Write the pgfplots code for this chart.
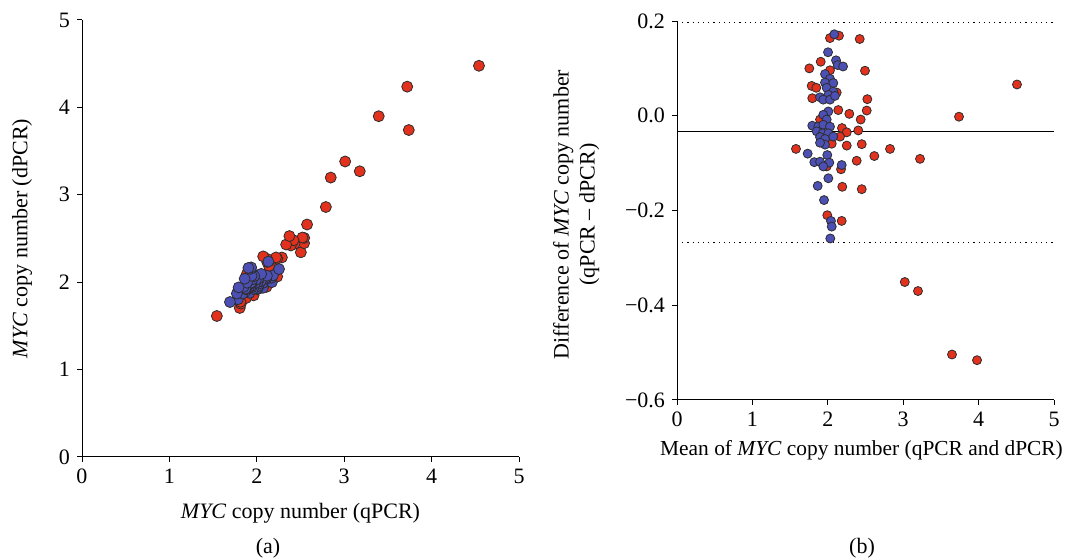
\documentclass[border=0pt]{standalone}
\usepackage{fontspec}
\setmainfont{Liberation Serif}
\usepackage{pgfplots}
\usepackage{pgfplotstable}
\pgfplotsset{compat=1.18}
\definecolor{ptred}{RGB}{226,49,29}
\definecolor{ptblue}{RGB}{76,79,180}
\definecolor{ptedge}{RGB}{45,45,45}

% Bland-Altman data (mean, difference)
\pgfplotstableread{
m d
2.029 0.164
2.148 0.169
2.423 0.162
1.906 0.114
1.755 0.100
2.029 0.096
2.493 0.095
1.786 0.063
1.847 0.059
2.118 0.049
1.794 0.037
2.524 0.035
2.139 0.012
2.516 0.011
2.285 0.004
2.436 -0.008
1.897 -0.008
2.188 -0.026
2.251 -0.035
2.404 -0.031
2.162 -0.044
2.052 -0.059
2.251 -0.063
2.450 -0.060
1.578 -0.070
2.825 -0.070
1.985 -0.107
2.175 -0.113
2.383 -0.095
2.192 -0.150
2.450 -0.155
1.993 -0.210
2.184 -0.222
2.617 -0.085
4.509 0.066
3.740 -0.002
3.223 -0.091
3.021 -0.351
3.196 -0.370
3.647 -0.504
3.979 -0.516
}\redBA
\pgfplotstableread{
m d
2.086 0.172
2.003 0.134
2.109 0.117
2.131 0.107
2.202 0.104
1.963 0.088
2.029 0.078
1.963 0.070
2.073 0.069
1.985 0.059
2.073 0.051
2.007 0.044
1.897 0.039
1.940 0.034
2.029 0.034
2.095 0.042
2.007 0.009
1.940 0.002
1.985 -0.008
1.794 -0.021
1.874 -0.023
1.940 -0.019
2.029 -0.023
1.853 -0.033
1.932 -0.037
2.007 -0.037
1.897 -0.045
1.963 -0.049
2.073 -0.044
1.963 -0.061
1.897 -0.057
1.733 -0.080
1.821 -0.098
1.897 -0.097
1.993 -0.083
2.020 -0.099
1.940 -0.107
2.184 -0.104
2.007 -0.132
1.866 -0.148
1.950 -0.178
2.042 -0.222
2.052 -0.234
2.033 -0.259
}\blueBA
% Scatter data (qPCR, dPCR)
\pgfplotstableread{
q p
2.111 1.947
2.233 2.064
2.504 2.342
1.963 1.849
1.805 1.705
2.077 1.981
2.541 2.446
1.818 1.755
1.877 1.818
2.143 2.094
1.813 1.776
2.542 2.507
2.145 2.133
2.522 2.511
2.287 2.283
2.432 2.440
1.893 1.901
2.175 2.201
2.234 2.269
2.389 2.420
2.140 2.184
2.023 2.082
2.220 2.283
2.420 2.480
1.543 1.613
2.790 2.860
1.932 2.039
2.119 2.232
2.336 2.431
2.117 2.267
2.373 2.528
1.888 2.098
2.073 2.295
2.575 2.660
4.542 4.476
3.739 3.741
3.178 3.269
2.846 3.197
3.011 3.381
3.395 3.899
3.721 4.237
}\redSC
\pgfplotstableread{
q p
2.172 2.000
2.070 1.936
2.168 2.051
2.185 2.078
2.254 2.150
2.007 1.919
2.068 1.990
1.998 1.928
2.108 2.039
2.015 1.956
2.099 2.048
2.029 1.985
1.917 1.878
1.957 1.923
2.046 2.012
2.116 2.074
2.012 2.003
1.941 1.939
1.981 1.989
1.784 1.805
1.863 1.886
1.931 1.950
2.018 2.041
1.837 1.870
1.914 1.951
1.989 2.026
1.875 1.920
1.939 1.988
2.051 2.095
1.933 1.994
1.869 1.926
1.693 1.773
1.772 1.870
1.849 1.946
1.952 2.035
1.971 2.070
1.887 1.994
2.132 2.236
1.941 2.073
1.792 1.940
1.861 2.039
1.931 2.153
1.935 2.169
1.904 2.163
}\blueSC

\begin{document}
\begin{tikzpicture}
\useasboundingbox (0,0) rectangle (535pt,280pt);
\pgfplotsset{
  common/.style={
    scale only axis,
    axis x line*=bottom, axis y line*=left,
    axis line style={-, black, line width=0.5pt},
    tick align=outside, major tick length=2.5pt,
    tick style={black, line width=0.5pt},
    xmin=0, xmax=5, xtick={0,1,2,3,4,5}, xticklabels={0,1,2,3,4,5},
    /pgf/number format/assume math mode=true,
    ticklabel style={font=\fontsize{11}{13}\selectfont},
    label style={font=\fontsize{11}{13}\selectfont},
    clip=false,
  },
  redmk/.style={only marks, mark=*, mark size=#1,
    mark options={fill=ptred, draw=ptedge, line width=0.4pt}},
  bluemk/.style={only marks, mark=*, mark size=#1,
    mark options={fill=ptblue, draw=ptedge, line width=0.4pt}},
}
\begin{axis}[common,
  at={(41pt,51.5pt)}, anchor=south west,
  width=218.5pt, height=218.5pt,
  ymin=0, ymax=5, ytick={0,1,2,3,4,5}, yticklabels={0,1,2,3,4,5},
  xlabel={\textit{MYC} copy number (qPCR)},
  ylabel={\textit{MYC} copy number (dPCR)},
  xlabel style={yshift=-3pt},
  ylabel style={yshift=6.5pt},
]
\addplot[redmk=2.75pt] table[x=q, y=p] {\redSC};
\addplot[bluemk=2.75pt] table[x=q, y=p] {\blueSC};
\end{axis}

\begin{axis}[common,
  at={(338.5pt,80pt)}, anchor=south west,
  width=188.5pt, height=189.5pt,
  ymin=-0.6, ymax=0.2, ytick={-0.6,-0.4,-0.2,0,0.2},
  yticklabels={−0.6,−0.4,−0.2,0.0,0.2},
  xlabel={Mean of \textit{MYC} copy number (qPCR and dPCR)},
  ylabel={Difference of \textit{MYC} copy number\\(qPCR – dPCR)},
  xlabel style={xshift=-2pt, font=\fontsize{10.7}{13}\selectfont},
  ylabel style={align=center, yshift=6pt, xshift=-2pt},
]
\addplot[black, line width=0.5pt] coordinates {(0,-0.034) (5,-0.034)};
\addplot[black, dotted, line width=0.6pt] coordinates {(0,0.197) (5,0.197)};
\addplot[black, dotted, line width=0.6pt] coordinates {(0,-0.267) (5,-0.267)};
\addplot[redmk=2.25pt] table[x=m, y=d] {\redBA};
\addplot[bluemk=2.25pt] table[x=m, y=d] {\blueBA};
\end{axis}

\node[font=\fontsize{11}{13}\selectfont] at (134pt,6pt) {(a)};
\node[font=\fontsize{11}{13}\selectfont] at (431pt,6pt) {(b)};
\end{tikzpicture}
\end{document}
